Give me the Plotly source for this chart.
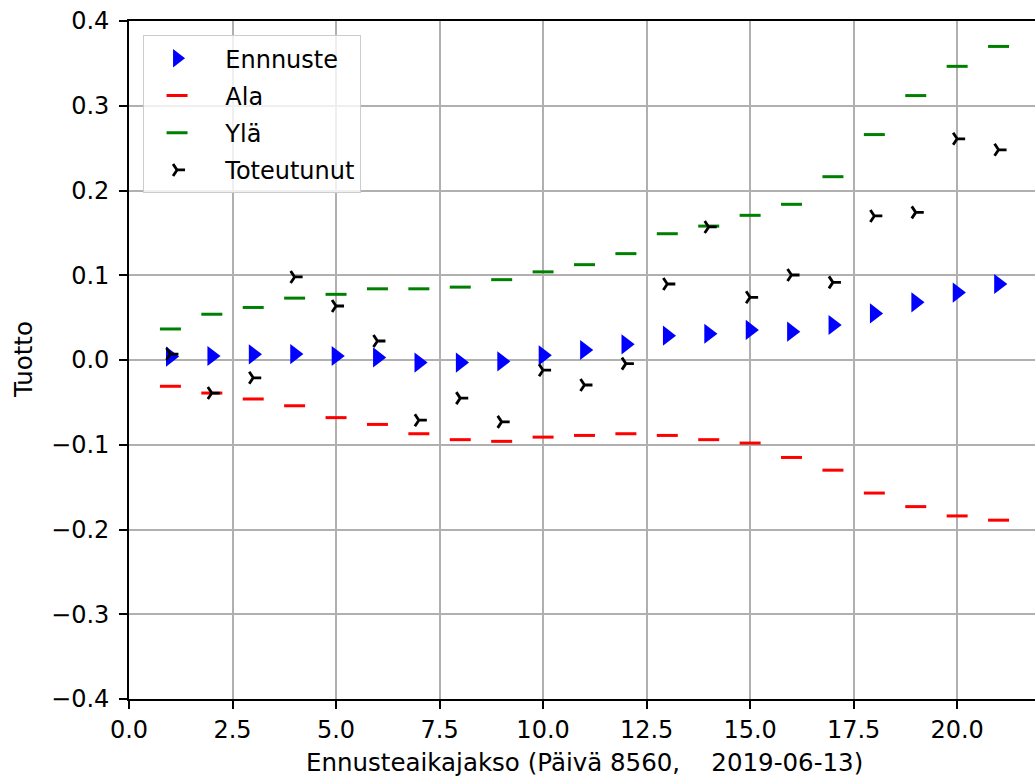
import plotly.graph_objects as go

# Forecast horizon (days ahead)
horizon = list(range(1, 22))

# Point forecast of the return
forecast = [0.004, 0.0047, 0.0067, 0.007, 0.0047, 0.003, -0.003, -0.003, -0.0016,
            0.0055, 0.0118, 0.0185, 0.0287, 0.031, 0.0355, 0.0334, 0.0413, 0.055,
            0.068, 0.0795, 0.0897]

# Lower bound of the forecast interval
lower = [-0.031, -0.039, -0.046, -0.054, -0.068, -0.076, -0.087, -0.094, -0.096,
         -0.091, -0.089, -0.087, -0.089, -0.094, -0.098, -0.115, -0.130, -0.157,
         -0.173, -0.184, -0.189]

# Upper bound of the forecast interval
upper = [0.0366, 0.054, 0.062, 0.073, 0.0775, 0.084, 0.084, 0.086, 0.0948,
         0.104, 0.1125, 0.1255, 0.149, 0.158, 0.1707, 0.1837, 0.2163, 0.266,
         0.312, 0.3465, 0.370]

# Realised return
actual = [0.007, -0.039, -0.021, 0.098, 0.0637, 0.0224, -0.071, -0.045, -0.073,
          -0.012, -0.0295, -0.0043, 0.0897, 0.157, 0.074, 0.1003, 0.0916, 0.170,
          0.1742, 0.261, 0.248]

x_ticks = [0, 2.5, 5, 7.5, 10, 12.5, 15, 17.5, 20]
y_ticks = [-0.4, -0.3, -0.2, -0.1, 0.0, 0.1, 0.2, 0.3, 0.4]

FONT = "DejaVu Sans"
FS_TICK = 24
FS_TITLE = 24.5
FS_LEG = 24
PAD = "\u00a0\u00a0"

fig = go.Figure()

fig.add_trace(go.Scatter(
    x=horizon, y=forecast, mode="markers", name=PAD + "Ennnuste",
    legendgroup="a",
    marker=dict(symbol="triangle-right", size=17.5, color="#0000ff",
                line=dict(width=0)),
))
fig.add_trace(go.Scatter(
    x=horizon, y=lower, mode="markers", name=PAD + "Ala",
    legendgroup="b",
    marker=dict(symbol="line-ew", size=15, color="#ff0000",
                line=dict(width=3, color="#ff0000")),
))
fig.add_trace(go.Scatter(
    x=horizon, y=upper, mode="markers", name=PAD + "Ylä",
    legendgroup="c",
    marker=dict(symbol="line-ew", size=15, color="#008000",
                line=dict(width=3, color="#008000")),
))
fig.add_trace(go.Scatter(
    x=horizon, y=actual, mode="markers", name=PAD + "Toteutunut",
    legendgroup="d",
    marker=dict(symbol="y-right", size=10, color="#000000",
                line=dict(width=2.8, color="#000000")),
))

axis_common = dict(
    showgrid=True, gridcolor="#b0b0b0", gridwidth=1.7,
    showline=True, linecolor="#000000", linewidth=1.8,
    ticks="outside", ticklen=8, tickwidth=1.8, tickcolor="#000000",
    tickfont=dict(family=FONT, size=FS_TICK, color="#000000"),
    zeroline=False,
    tickformat=".1f",
)

fig.update_xaxes(
    range=[0, 21.88], tickvals=x_ticks, mirror=True,
    ticklabelstandoff=0, **axis_common
)
fig.update_yaxes(
    range=[-0.4, 0.4], tickvals=y_ticks, mirror=False,
    ticklabelstandoff=5, **axis_common
)

fig.add_annotation(
    text="Ennusteaikajakso (Päivä 8560,\u00a0\u00a0\u00a0\u00a02019-06-13)",
    xref="x", yref="paper", x=11, y=0, yshift=-63,
    xanchor="center", yanchor="middle", showarrow=False,
    font=dict(family=FONT, size=FS_TITLE, color="#000000"),
)
fig.add_annotation(
    text="Tuotto", textangle=-90,
    xref="paper", yref="y", x=0, y=0, xshift=-106,
    xanchor="center", yanchor="middle", showarrow=False,
    font=dict(family=FONT, size=FS_TITLE, color="#000000"),
)

fig.update_layout(
    width=1035, height=778,
    margin=dict(l=129, r=0, t=21, b=79),
    paper_bgcolor="white", plot_bgcolor="white",
    font=dict(family=FONT, size=FS_TICK, color="#000000"),
    showlegend=True,
    legend=dict(
        x=0.0155, y=0.979, xanchor="left", yanchor="top",
        bgcolor="rgba(255,255,255,0.8)", bordercolor="#cccccc", borderwidth=1,
        font=dict(family=FONT, size=FS_LEG, color="#000000"),
        itemwidth=56, tracegroupgap=3,
    ),
)

fig.write_html("out.html")
